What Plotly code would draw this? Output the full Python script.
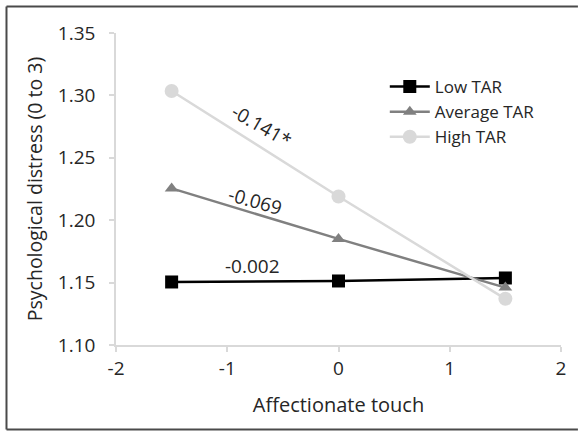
import plotly.graph_objects as go

# Data
x_vals = [-1.5, 0, 1.5]
low_tar = [1.1505, 1.1513, 1.1537]
avg_tar = [1.2255, 1.1850, 1.1460]
high_tar = [1.3035, 1.2190, 1.1370]
series_names = ["Low TAR", "Average TAR", "High TAR"]
slope_labels = ["-0.141*", "-0.069", "-0.002"]
slope_label_x = [-0.69, -0.75, -0.77]
slope_label_y = [1.2755, 1.2154, 1.1633]
slope_label_angle = [30, 16, 0]
x_ticks = [-2, -1, 0, 1, 2]
x_tick_text = ["-2", "-1", "0", "1", "2"]
y_ticks = [1.10, 1.15, 1.20, 1.25, 1.30, 1.35]
y_tick_text = ["1.10", "1.15", "1.20", "1.25", "1.30", "1.35"]

FONT = "Open Sans"
TXT = "#262626"

fig = go.Figure()
fig.add_trace(go.Scatter(
    x=x_vals, y=low_tar, name=series_names[0], mode="lines+markers",
    line=dict(color="#000000", width=2.5),
    marker=dict(symbol="square", size=13, color="#000000")))
fig.add_trace(go.Scatter(
    x=x_vals, y=avg_tar, name=series_names[1], mode="lines+markers",
    line=dict(color="#808080", width=2.5),
    marker=dict(symbol="triangle-up", size=12, color="#808080")))
fig.add_trace(go.Scatter(
    x=x_vals, y=high_tar, name=series_names[2], mode="lines+markers",
    line=dict(color="#d9d9d9", width=2.5),
    marker=dict(symbol="circle", size=14, color="#d9d9d9")))

for t, ax_, ay_, ang in zip(slope_labels, slope_label_x, slope_label_y, slope_label_angle):
    fig.add_annotation(x=ax_, y=ay_, text=t, showarrow=False, textangle=ang,
                       font=dict(family=FONT, size=19, color=TXT))

# outer frame
L, R, T, B = 116, 15, 33, 88
W, H = 578, 433
pw, ph = W - L - R, H - T - B
def px2paper_x(px):
    return (px - L) / pw
def px2paper_y(py):
    return (H - B - py) / ph
frame = dict(color="#4a4a4a", width=2)
fx0, fx1, fy0, fy1 = px2paper_x(6), px2paper_x(580), px2paper_y(429.5), px2paper_y(6.5)
fig.add_shape(type="line", xref="paper", yref="paper", x0=fx0, x1=fx0, y0=fy0, y1=fy1, line=frame)
fig.add_shape(type="line", xref="paper", yref="paper", x0=fx0, x1=fx1, y0=fy1, y1=fy1, line=frame)
fig.add_shape(type="line", xref="paper", yref="paper", x0=fx0, x1=fx1, y0=fy0, y1=fy0, line=frame)

fig.update_layout(
    width=W, height=H,
    margin=dict(l=L, r=R, t=T, b=B),
    paper_bgcolor="white", plot_bgcolor="white",
    font=dict(family=FONT, size=18, color=TXT),
    showlegend=True,
    legend=dict(x=px2paper_x(386), y=px2paper_y(69), xanchor="left", yanchor="top",
                bgcolor="rgba(0,0,0,0)", font=dict(family=FONT, size=17, color=TXT),
                itemwidth=40, tracegroupgap=0),
    xaxis=dict(range=[-2, 2], tickvals=x_ticks, ticktext=x_tick_text,
               showgrid=False, zeroline=False,
               showline=True, linecolor="#d9d9d9", linewidth=1.5,
               ticks="outside", ticklen=5, tickcolor="#d9d9d9", tickwidth=1.5,
               tickfont=dict(family=FONT, size=19, color=TXT),
               title=dict(text="Affectionate touch", standoff=18,
                          font=dict(family=FONT, size=20, color=TXT))),
    yaxis=dict(range=[1.10, 1.35], tickvals=y_ticks, ticktext=y_tick_text,
               showgrid=False, zeroline=False,
               showline=True, linecolor="#d9d9d9", linewidth=1.5,
               ticks="outside", ticklen=5, tickcolor="#d9d9d9", tickwidth=1.5,
               ticklabelstandoff=10,
               tickfont=dict(family=FONT, size=19, color=TXT),
               title=dict(text="Psychological distress (0 to 3)", standoff=10,
                          font=dict(family=FONT, size=19.5, color=TXT))),
)

fig.write_html("out.html", config={"displayModeBar": False},
               post_script="document.body.style.margin='0';document.body.style.padding='0';")
